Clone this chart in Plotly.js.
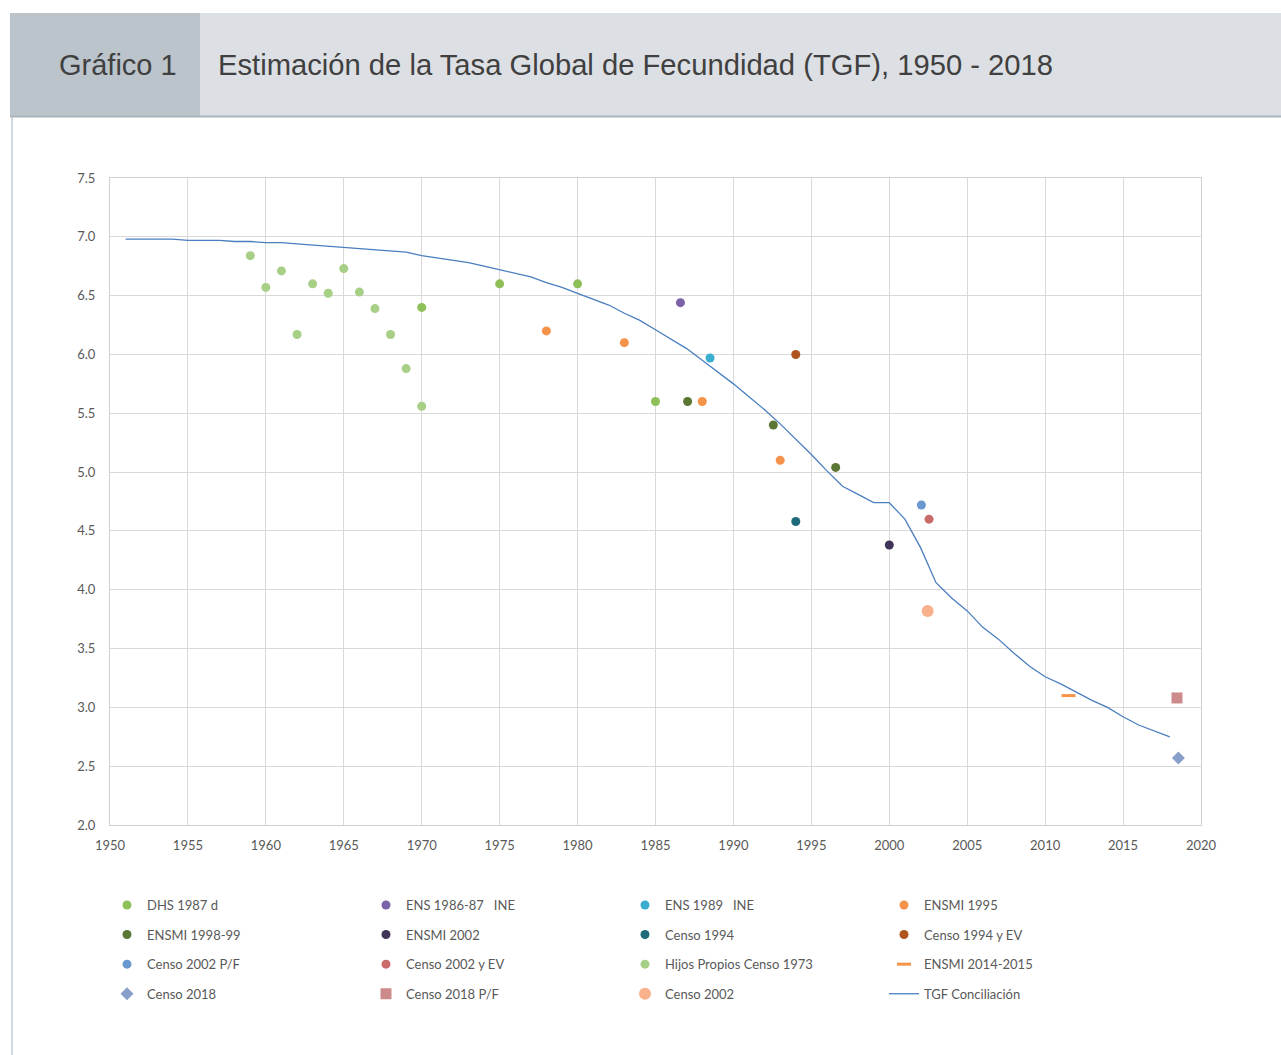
<!DOCTYPE html>
<html><head><meta charset="utf-8">
<script src="https://cdn.plot.ly/plotly-3.0.1.min.js"></script>
<style>html,body{margin:0;padding:0;background:#fff}#chart{width:1281px;height:1055px}</style>
</head><body><div id="chart"></div>
<script>
// ---- Data ----
const tgfYears = [1951,1952,1953,1954,1955,1956,1957,1958,1959,1960,1961,1962,1963,1964,1965,1966,1967,1968,1969,1970,1971,1972,1973,1974,1975,1976,1977,1978,1979,1980,1981,1982,1983,1984,1985,1986,1987,1988,1989,1990,1991,1992,1993,1994,1995,1996,1997,1998,1999,2000,2001,2002,2003,2004,2005,2006,2007,2008,2009,2010,2011,2012,2013,2014,2015,2016,2017,2018];
const tgfValues = [6.98,6.98,6.98,6.98,6.97,6.97,6.97,6.96,6.96,6.95,6.95,6.94,6.93,6.92,6.91,6.90,6.89,6.88,6.87,6.84,6.82,6.80,6.78,6.75,6.72,6.69,6.66,6.61,6.57,6.52,6.47,6.42,6.35,6.29,6.21,6.13,6.05,5.95,5.85,5.75,5.64,5.53,5.41,5.28,5.15,5.01,4.88,4.81,4.74,4.74,4.60,4.36,4.06,3.93,3.82,3.68,3.58,3.46,3.35,3.26,3.20,3.13,3.06,3.00,2.92,2.85,2.80,2.75];

const dhsYears = [1970,1975,1980,1985];
const dhsValues = [6.40,6.60,6.60,5.60];
const hijosYears = [1959,1960,1961,1962,1963,1964,1965,1966,1967,1968,1969,1970];
const hijosValues = [6.84,6.57,6.71,6.17,6.60,6.52,6.73,6.53,6.39,6.17,5.88,5.56];
const ens8687Years = [1986.6]; const ens8687Values = [6.44];
const ens89Years = [1988.5]; const ens89Values = [5.97];
const ensmi95Years = [1978,1983,1988,1993]; const ensmi95Values = [6.20,6.10,5.60,5.10];
const ensmi9899Years = [1987.06,1992.56,1996.56]; const ensmi9899Values = [5.60,5.40,5.04];
const ensmi02Years = [2000]; const ensmi02Values = [4.38];
const censo94Years = [1994]; const censo94Values = [4.58];
const censo94evYears = [1994]; const censo94evValues = [6.00];
const censo02pfYears = [2002.06]; const censo02pfValues = [4.72];
const censo02evYears = [2002.55]; const censo02evValues = [4.60];
const censo02Years = [2002.46]; const censo02Values = [3.82];
const ensmi1415Years = [2011.5]; const ensmi1415Values = [3.10];
const censo18Years = [2018.55]; const censo18Values = [2.57];
const censo18pfYears = [2018.46]; const censo18pfValues = [3.08];

const xTicks = [1950,1955,1960,1965,1970,1975,1980,1985,1990,1995,2000,2005,2010,2015,2020];
const yTicks = [2.0,2.5,3.0,3.5,4.0,4.5,5.0,5.5,6.0,6.5,7.0,7.5];

const headerLabel = 'Gráfico 1';
const headerTitle = 'Estimación de la Tasa Global de Fecundidad (TGF), 1950 - 2018';

// ---- Helpers ----
const dot = (name, x, y, color, legend, extra) => Object.assign({
  type:'scatter', mode:'markers', name, x, y, legend, legendgroup:name,
  marker:{color, size:9, symbol:'circle', line:{width:0}}
}, extra||{});

const traces = [
  {type:'scatter', mode:'lines', name:'TGF Conciliación', x:tgfYears, y:tgfValues, legend:'legend4', legendgroup:'tgf', legendrank:4,
   line:{color:'#4a7ebf', width:1.3}},
  dot('DHS 1987 d', dhsYears, dhsValues, '#8fbf59', 'legend', {legendrank:1}),
  dot('ENSMI 1998-99', ensmi9899Years, ensmi9899Values, '#5b7733', 'legend', {legendrank:2}),
  dot('Censo 2002 P/F', censo02pfYears, censo02pfValues, '#6a99cf', 'legend', {legendrank:3}),
  dot('Censo 2018', censo18Years, censo18Values, '#889fca', 'legend', {legendrank:4, marker:{color:'#889fca', size:10, symbol:'diamond'}}),
  dot('ENS 1986-87   INE', ens8687Years, ens8687Values, '#7b62a9', 'legend2', {legendrank:1}),
  dot('ENSMI 2002', ensmi02Years, ensmi02Values, '#403558', 'legend2', {legendrank:2}),
  dot('Censo 2002 y EV', censo02evYears, censo02evValues, '#c96b6b', 'legend2', {legendrank:3}),
  dot('Censo 2018 P/F', censo18pfYears, censo18pfValues, '#cc8a8a', 'legend2', {legendrank:4, marker:{color:'#cc8a8a', size:11, symbol:'square'}}),
  dot('ENS 1989   INE', ens89Years, ens89Values, '#3aaecf', 'legend3', {legendrank:1}),
  dot('Censo 1994', censo94Years, censo94Values, '#1f6b79', 'legend3', {legendrank:2}),
  dot('Hijos Propios Censo 1973', hijosYears, hijosValues, '#a7cf86', 'legend3', {legendrank:3}),
  dot('Censo 2002', censo02Years, censo02Values, '#f9b18b', 'legend3', {legendrank:4, marker:{color:'#f9b18b', size:12, symbol:'circle'}}),
  dot('ENSMI 1995', ensmi95Years, ensmi95Values, '#f5934a', 'legend4', {legendrank:1}),
  dot('Censo 1994 y EV', censo94evYears, censo94evValues, '#b0541f', 'legend4', {legendrank:2}),
  dot('ENSMI 2014-2015', ensmi1415Years, ensmi1415Values, '#f5934a', 'legend4', {legendrank:3, marker:{color:'#f5934a', size:10, symbol:'line-ew', line:{color:'#f5934a', width:3}}}),
];

// pixel -> paper helpers for layout decorations
const L=110, R=1201, T=178, B=825;
const px = v => (v-L)/(R-L);
const py = v => (B-v)/(B-T);

const legFont = {family:'Lato, "Open Sans", sans-serif', size:13, color:'#595959'};
const mkLegend = (x) => ({x:x, y:py(890), xanchor:'left', yanchor:'top', orientation:'v', traceorder:'grouped', tracegroupgap:9.7,
  font:legFont, bgcolor:'rgba(0,0,0,0)', borderwidth:0, itemclick:false});

const tickFont = {family:'Lato, "Open Sans", sans-serif', size:13, color:'#595959'};

const layout = {
  width:1281, height:1055,
  margin:{l:L, r:1281-R, t:T, b:1055-B, pad:0},
  paper_bgcolor:'#ffffff', plot_bgcolor:'#ffffff',
  showlegend:true,
  xaxis:{range:[1950,2020], tickvals:xTicks, ticktext:xTicks.map(String), showgrid:true, gridcolor:'#d9d9d9', gridwidth:1,
    showline:true, linecolor:'#d0d0d0', linewidth:1, mirror:true, zeroline:false, ticks:'', ticklabelstandoff:8,
    tickfont:tickFont, fixedrange:true},
  yaxis:{range:[2.0,7.5], tickvals:yTicks, ticktext:yTicks.map(v=>v.toFixed(1)), showgrid:true, gridcolor:'#d9d9d9', gridwidth:1,
    showline:true, linecolor:'#d0d0d0', linewidth:1, mirror:true, zeroline:false, ticks:'', ticklabelstandoff:11,
    tickfont:tickFont, fixedrange:true},
  legend:mkLegend(px(107)),
  legend2:mkLegend(px(366)),
  legend3:mkLegend(px(625)),
  legend4:mkLegend(px(884)),
  shapes:[
    {type:'rect', xref:'paper', yref:'paper', x0:px(10), x1:px(200), y0:py(117), y1:py(13), fillcolor:'#bcc4cb', line:{width:0}, layer:'below'},
    {type:'rect', xref:'paper', yref:'paper', x0:px(200), x1:px(1281), y0:py(117), y1:py(13), fillcolor:'#dcdfe3', line:{width:0}, layer:'below'},
    {type:'line', xref:'paper', yref:'paper', x0:px(10), x1:px(1281), y0:py(116.5), y1:py(116.5), line:{color:'#aab3ba', width:2}},
    {type:'line', xref:'paper', yref:'paper', x0:px(12), x1:px(12), y0:py(117), y1:py(1055), line:{color:'#c2ccd3', width:1.5}}
  ],
  annotations:[
    {xref:'paper', yref:'paper', x:px(57), y:py(65), xanchor:'left', yanchor:'middle', showarrow:false, text:headerLabel,
     font:{family:'"Liberation Sans", Arial, sans-serif', size:29, color:'#404040'}},
    {xref:'paper', yref:'paper', x:px(216), y:py(65), xanchor:'left', yanchor:'middle', showarrow:false, text:headerTitle,
     font:{family:'"Liberation Sans", Arial, sans-serif', size:29.2, color:'#404040'}}
  ]
};

Plotly.newPlot('chart', traces, layout, {displayModeBar:false, staticPlot:true});
</script>
</body></html>
